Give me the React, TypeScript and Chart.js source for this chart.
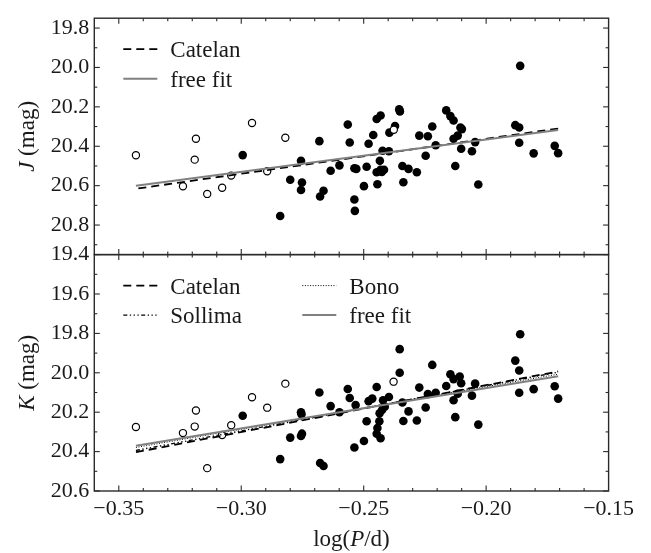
import React, { useEffect, useRef } from "react";
import { Chart, registerables } from "chart.js";

Chart.register(...registerables);

// ---------- axes ----------
const xMin = -0.36;
const xMax = -0.15;
const xTickValues = [-0.35, -0.3, -0.25, -0.2, -0.15];
const jMin = 19.75;
const jMax = 20.95;
const jTickValues = [19.8, 20.0, 20.2, 20.4, 20.6, 20.8];
const kMin = 19.4;
const kMax = 20.6;
const kTickValues = [19.4, 19.6, 19.8, 20.0, 20.2, 20.4, 20.6];

// ---------- J panel data ----------
const jOpenX = [-0.343, -0.3185, -0.319, -0.3238, -0.3139, -0.3078, -0.3041, -0.2956, -0.2894, -0.282, -0.2377];
const jOpenY = [20.446, 20.362, 20.468, 20.603, 20.642, 20.611, 20.549, 20.282, 20.527, 20.357, 20.316];

const jFilledX = [
  -0.2994, -0.2841, -0.28, -0.2756, -0.2752, -0.2756, -0.2681, -0.2678, -0.2664, -0.2635, -0.2599, -0.2565,
  -0.2557, -0.2538, -0.253, -0.2538, -0.2536, -0.2499, -0.2488, -0.248, -0.2461, -0.2447, -0.2431, -0.2444,
  -0.2447, -0.2434, -0.2431, -0.2426, -0.2417, -0.2423, -0.2397, -0.2395, -0.2372, -0.2355, -0.2352, -0.2342,
  -0.2338, -0.2317, -0.2283, -0.2273, -0.2247, -0.2238, -0.222, -0.2206, -0.2163, -0.2146, -0.2133, -0.2126,
  -0.2133, -0.2116, -0.2105, -0.2099, -0.2102, -0.2058, -0.2045, -0.2032, -0.1881, -0.1865, -0.1865, -0.1861,
  -0.1806, -0.172, -0.1706,
];
const jFilledY = [
  20.445, 20.754, 20.57, 20.474, 20.584, 20.622, 20.374, 20.655, 20.626, 20.524, 20.497, 20.29,
  20.381, 20.512, 20.515, 20.67, 20.728, 20.6025, 20.504, 20.387, 20.343, 20.262, 20.244, 20.593,
  20.532, 20.474, 20.519, 20.53, 20.519, 20.423, 20.425, 20.331, 20.297, 20.213, 20.223, 20.5,
  20.583, 20.515, 20.532, 20.346, 20.448, 20.349, 20.3, 20.395, 20.218, 20.247, 20.269, 20.5,
  20.362, 20.346, 20.305, 20.313, 20.413, 20.425, 20.379, 20.594, 20.293, 20.305, 20.382, 19.992,
  20.436, 20.398, 20.435,
];

// ---------- K panel data ----------
const kOpenX = [-0.343, -0.3238, -0.3185, -0.319, -0.3139, -0.3078, -0.3041, -0.2956, -0.2894, -0.282, -0.2378];
const kOpenY = [20.275, 20.306, 20.191, 20.273, 20.484, 20.316, 20.266, 20.124, 20.177, 20.055, 20.045];

const kFilledX = [
  -0.2994, -0.2841, -0.28, -0.2756, -0.2754, -0.2752, -0.2756, -0.2681, -0.2678, -0.2664, -0.2635, -0.2599,
  -0.2565, -0.2557, -0.2538, -0.2533, -0.2499, -0.2488, -0.248, -0.2465, -0.2447, -0.2447, -0.2444, -0.2436,
  -0.2431, -0.2435, -0.2425, -0.2421, -0.2414, -0.2397, -0.2353, -0.2353, -0.2342, -0.2338, -0.2317, -0.2283,
  -0.2273, -0.2247, -0.2238, -0.222, -0.2206, -0.2163, -0.2146, -0.2133, -0.2126, -0.2133, -0.2116, -0.2108,
  -0.2102, -0.2058, -0.2045, -0.2032, -0.1881, -0.1865, -0.1865, -0.1861, -0.1806, -0.172, -0.1706,
];
const kFilledY = [
  20.218, 20.438, 20.329, 20.2, 20.21, 20.309, 20.321, 20.1, 20.458, 20.473, 20.169, 20.2,
  20.082, 20.128, 20.379, 20.164, 20.346, 20.246, 20.144, 20.131, 20.072, 20.309, 20.28, 20.246,
  20.332, 20.205, 20.189, 20.139, 20.172, 20.123, 19.88, 20.0, 20.151, 20.245, 20.196, 20.242,
  20.075, 20.176, 20.108, 19.96, 20.101, 20.067, 20.007, 20.032, 20.225, 20.139, 20.106, 20.019,
  20.053, 20.116, 20.055, 20.263, 19.938, 19.988, 20.101, 19.804, 20.083, 20.068, 20.131,
];

// ---------- relations (end points) ----------
const fitX = [-0.343, -0.1706];
const catelanJX = [-0.342, -0.1706];
const catelanJ = [20.614, 20.31];
const freeJ = [20.6, 20.318];
const catelanK = [20.403, 19.993];
const sollimaK = [20.394, 19.997];
const bonoK = [20.379, 20.007];
const freeK = [20.37, 20.017];

const legendJ = ["Catelan", "free fit"];
const legendK = ["Catelan", "Sollima", "Bono", "free fit"];

const SERIF = '"Liberation Serif", "DejaVu Serif", serif';
const INK = "#1a1a1a";
const GRAY = "#808080";

const styleFor: Record<string, { color: string; width: number; dash: number[] }> = {
  Catelan: { color: "#000", width: 1.8, dash: [8, 5] },
  Sollima: { color: "#000", width: 1.4, dash: [4, 2.5, 1.3, 2.5, 1.3, 2.5, 1.3, 2.5] },
  Bono: { color: "#000", width: 1.0, dash: [1, 1.6] },
  "free fit": { color: GRAY, width: 2, dash: [] },
};

const pts = (xs: number[], ys: number[]) => xs.map((x, i) => ({ x, y: ys[i] }));

function lineDs(label: string, xs: number[], ys: number[], axis: string, order: number) {
  const s = styleFor[label];
  return {
    label,
    data: pts(xs, ys),
    yAxisID: axis,
    xAxisID: "x",
    showLine: true,
    pointRadius: 0,
    borderColor: s.color,
    backgroundColor: s.color,
    borderWidth: s.width,
    borderDash: s.dash,
    fill: false,
    order,
  };
}

function pointDs(label: string, xs: number[], ys: number[], axis: string, open: boolean) {
  return {
    label,
    data: pts(xs, ys),
    yAxisID: axis,
    xAxisID: "x",
    showLine: false,
    pointStyle: "circle",
    pointRadius: open ? 3.6 : 4.3,
    pointHoverRadius: open ? 3.6 : 4.3,
    pointBackgroundColor: open ? "#fff" : "#000",
    pointBorderColor: "#000",
    pointBorderWidth: open ? 1.2 : 0,
    order: 10,
  };
}

function drawLine(ctx: CanvasRenderingContext2D, x1: number, y1: number, x2: number, y2: number) {
  ctx.beginPath();
  ctx.moveTo(x1, y1);
  ctx.lineTo(x2, y2);
  ctx.stroke();
}

const framePlugin = {
  id: "frameTicks",
  afterDatasetsDraw(chart: any) {
    const ctx: CanvasRenderingContext2D = chart.ctx;
    const xs = chart.scales.x;
    const panels = [chart.scales.yJ, chart.scales.yK];
    ctx.save();
    ctx.strokeStyle = "#2a2a2a";
    ctx.lineWidth = 1.4;
    ctx.setLineDash([]);
    for (const ys of panels) {
      const l = xs.left;
      const r = xs.right;
      const t = ys.top;
      const b = ys.bottom;
      ctx.strokeRect(l, t, r - l, b - t);
      ctx.lineWidth = 1.1;
      const n = Math.round((xMax - xMin) * 100);
      for (let i = 1; i < n; i++) {
        const k = Math.round(xMin * 100) + i;
        const major = k % 5 === 0;
        const len = major ? 5.5 : 3;
        const px = xs.getPixelForValue(k / 100);
        drawLine(ctx, px, t, px, t + len);
        drawLine(ctx, px, b, px, b - len);
      }
      const lo = Math.ceil(ys.min * 10 - 1e-6);
      const hi = Math.floor(ys.max * 10 + 1e-6);
      for (let k = lo; k <= hi; k++) {
        const major = k % 2 === 0;
        const len = major ? 5.5 : 3;
        const py = ys.getPixelForValue(k / 10);
        drawLine(ctx, l, py, l + len, py);
        drawLine(ctx, r, py, r - len, py);
      }
      ctx.lineWidth = 1.4;
    }
    ctx.restore();
  },
  afterDraw(chart: any) {
    const ctx: CanvasRenderingContext2D = chart.ctx;
    const xs = chart.scales.x;
    const left = xs.left;
    ctx.save();
    // legends
    const drawLegend = (labels: string[], panelTop: number, rows: number) => {
      labels.forEach((lab, i) => {
        const col = Math.floor(i / rows);
        const row = i % rows;
        const lx = left + 29 + col * 179;
        const ly = panelTop + 31 + row * 29.5;
        const s = styleFor[lab];
        ctx.strokeStyle = s.color;
        ctx.lineWidth = s.width;
        ctx.setLineDash(s.dash);
        drawLine(ctx, lx, ly, lx + 34, ly);
        ctx.setLineDash([]);
        ctx.fillStyle = INK;
        ctx.font = `23px ${SERIF}`;
        ctx.textAlign = "left";
        ctx.textBaseline = "alphabetic";
        ctx.fillText(lab, lx + 47, ly + 8);
      });
    };
    drawLegend(legendJ, chart.scales.yJ.top, 2);
    drawLegend(legendK, chart.scales.yK.top, 2);

    // axis titles with italic symbols
    const drawMixed = (parts: { t: string; it: boolean }[], cx: number, cy: number, rot: number) => {
      ctx.save();
      ctx.translate(cx, cy);
      ctx.rotate(rot);
      ctx.fillStyle = INK;
      ctx.textBaseline = "alphabetic";
      ctx.textAlign = "left";
      let total = 0;
      const widths = parts.map((p) => {
        ctx.font = `${p.it ? "italic " : ""}23px ${SERIF}`;
        const w = ctx.measureText(p.t).width;
        total += w;
        return w;
      });
      let x = -total / 2;
      parts.forEach((p, i) => {
        ctx.font = `${p.it ? "italic " : ""}23px ${SERIF}`;
        ctx.fillText(p.t, x, 8);
        x += widths[i];
      });
      ctx.restore();
    };
    drawMixed(
      [
        { t: "log(", it: false },
        { t: "P", it: true },
        { t: "/d)", it: false },
      ],
      (xs.left + xs.right) / 2,
      538,
      0
    );
    const yj = chart.scales.yJ;
    const yk = chart.scales.yK;
    drawMixed(
      [
        { t: "J", it: true },
        { t: " (mag)", it: false },
      ],
      26,
      (yj.top + yj.bottom) / 2,
      -Math.PI / 2
    );
    drawMixed(
      [
        { t: "K", it: true },
        { t: " (mag)", it: false },
      ],
      26,
      (yk.top + yk.bottom) / 2,
      -Math.PI / 2
    );
    ctx.restore();
  },
};

function yScale(min: number, max: number, ticks: number[], weight: number) {
  return {
    type: "linear",
    position: "left",
    stack: "panels",
    stackWeight: 1,
    weight,
    reverse: true,
    min,
    max,
    offset: false,
    grid: { display: false, drawTicks: false },
    border: { display: false },
    afterBuildTicks: (s: any) => {
      s.ticks = ticks.map((v) => ({ value: v }));
    },
    afterFit: (s: any) => {
      s.width = 94.3;
    },
    ticks: {
      autoSkip: false,
      padding: 5,
      color: INK,
      font: { family: SERIF, size: 22 },
      callback: (v: any) => Number(v).toFixed(1),
    },
  };
}

export default function App() {
  const ref = useRef<HTMLCanvasElement | null>(null);
  useEffect(() => {
    if (!ref.current) return;
    const chart = new Chart(ref.current, {
      type: "scatter",
      data: {
        datasets: [
          lineDs("free fit", fitX, freeJ, "yJ", 0),
          lineDs("Catelan", catelanJX, catelanJ, "yJ", 1),
          lineDs("free fit", fitX, freeK, "yK", 0),
          lineDs("Bono", fitX, bonoK, "yK", 1),
          lineDs("Sollima", fitX, sollimaK, "yK", 2),
          lineDs("Catelan", fitX, catelanK, "yK", 3),
          pointDs("J open", jOpenX, jOpenY, "yJ", true),
          pointDs("J filled", jFilledX, jFilledY, "yJ", false),
          pointDs("K open", kOpenX, kOpenY, "yK", true),
          pointDs("K filled", kFilledX, kFilledY, "yK", false),
        ] as any,
      },
      options: {
        animation: false,
        responsive: false,
        maintainAspectRatio: false,
        layout: { padding: { left: 0, right: 42.4, top: 6, bottom: 0 } },
        plugins: {
          legend: { display: false },
          tooltip: { enabled: false },
        },
        scales: {
          x: {
            type: "linear",
            position: "bottom",
            min: xMin,
            max: xMax,
            grid: { display: false, drawTicks: false },
            border: { display: false },
            afterBuildTicks: (s: any) => {
              s.ticks = xTickValues.map((v) => ({ value: v }));
            },
            afterFit: (s: any) => {
              s.height = 62;
            },
            ticks: {
              autoSkip: false,
              maxRotation: 0,
              padding: 5,
              color: INK,
              font: { family: SERIF, size: 22 },
              callback: (v: any) => (Number(v) < 0 ? "\u2212" : "") + Math.abs(Number(v)).toFixed(2),
            },
          },
          yJ: yScale(jMin, jMax, jTickValues, 2),
          yK: yScale(kMin, kMax, kTickValues, 1),
        } as any,
      },
      plugins: [framePlugin],
    });
    return () => chart.destroy();
  }, []);
  return (
    <div style={{ position: "fixed", left: 0, top: 0, width: 651, height: 553, background: "#fff" }}>
      <canvas ref={ref} width={651} height={553} style={{ width: 651, height: 553, display: "block" }} />
    </div>
  );
}
